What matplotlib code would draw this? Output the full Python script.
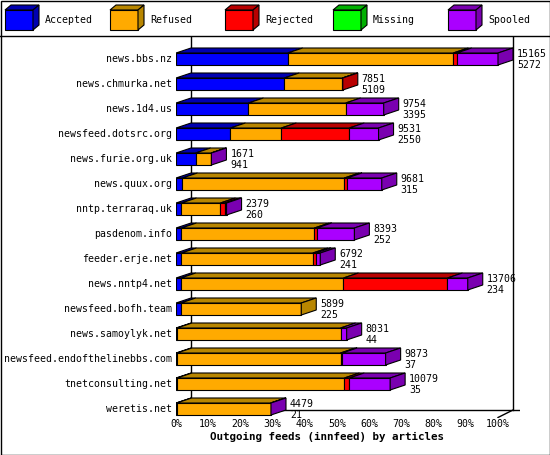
import numpy as np
import matplotlib.pyplot as plt
from matplotlib.patches import Polygon, Rectangle

# feeds, top to bottom
hosts = ['news.bbs.nz', 'news.chmurka.net', 'news.1d4.us', 'newsfeed.dotsrc.org',
         'news.furie.org.uk', 'news.quux.org', 'nntp.terraraq.uk', 'pasdenom.info',
         'feeder.erje.net', 'news.nntp4.net', 'newsfeed.bofh.team', 'news.samoylyk.net',
         'newsfeed.endofthelinebbs.com', 'tnetconsulting.net', 'weretis.net']
offered = [15165, 7851, 9754, 9531, 1671, 9681, 2379, 8393, 6792, 13706, 5899, 8031, 9873, 10079, 4479]
accepted_n = [5272, 5109, 3395, 2550, 941, 315, 260, 252, 241, 234, 225, 44, 37, 35, 21]

# segment widths in % of the largest feed
accepted = [34.7, 33.6, 22.5, 16.9, 6.1, 2.0, 1.7, 1.7, 1.7, 1.5, 1.5, 0.3, 0.3, 0.3, 0.2]
refused = [51.4, 18.1, 30.2, 15.8, 4.8, 50.3, 12.1, 41.3, 40.8, 50.5, 37.4, 50.8, 50.8, 52.0, 29.2]
rejected = [1.1, 0.1, 0.0, 21.1, 0.0, 0.8, 1.4, 0.7, 0.9, 32.3, 0.0, 0.0, 0.5, 1.5, 0.0]
missing = [0.0] * 15
spooled = [12.8, 0.0, 11.8, 9.1, 0.1, 10.8, 0.5, 11.7, 1.4, 6.3, 0.0, 1.9, 13.5, 12.7, 0.1]

names = ['Accepted', 'Refused', 'Rejected', 'Missing', 'Spooled']
front = ['#0000ff', '#ffaa00', '#ff0000', '#00ff00', '#aa00ff']
top = ['#0000b0', '#b88600', '#b80000', '#00b000', '#7a00b0']

plt.rcParams['font.family'] = ['DejaVu Sans Mono']
fs = 7.1
fig = plt.figure(figsize=(5.5, 4.55), dpi=100)

# overlay in pixel coords for frame and legend
bg = fig.add_axes([0, 0, 1, 1])
bg.set_xlim(0, 550)
bg.set_ylim(455, 0)
bg.axis('off')
bg.add_patch(Rectangle((0.5, 0.5), 549, 454, fill=False, lw=1, ec='black'))
bg.plot([0, 550], [36, 36], color='black', lw=1)
leg_x = [5, 110, 225, 333, 448]
for i, nm in enumerate(names):
    x0 = leg_x[i]
    bg.add_patch(Polygon([(x0, 10), (x0 + 28, 10), (x0 + 28, 30), (x0, 30)], fc=front[i], ec='black', lw=0.8))
    bg.add_patch(Polygon([(x0, 10), (x0 + 6, 5), (x0 + 34, 5), (x0 + 28, 10)], fc=top[i], ec='black', lw=0.8))
    bg.add_patch(Polygon([(x0 + 28, 10), (x0 + 34, 5), (x0 + 34, 25), (x0 + 28, 30)], fc=top[i], ec='black', lw=0.8))
    bg.text(x0 + 40, 20, nm, fontsize=fs, va='center')

# main chart: x in %, y in rows
ax = fig.add_axes([176 / 550, 1 - 418 / 455, 344 / 550, 382 / 455])
ax.set_xlim(0, 344 / 3.22)
ax.set_ylim((418 - 59) / 25, (36 - 59) / 25)
ax.axis('off')
dx, dy, h = 15 / 3.22, 5 / 25, 6 / 25

ax.plot([dx, dx], [-0.9, 14 + h - dy], color='black', lw=1, zorder=0)
ax.plot([100 + dx, 100 + dx], [-0.9, 14 + h - dy], color='black', lw=1, zorder=0)
ax.plot([dx, 110.5], [14 + h - dy, 14 + h - dy], color='black', lw=1, zorder=0)
ax.plot([100, 100 + dx], [14 + h + 0.1, 14 + h - dy], color='black', lw=1, zorder=0)
for t in range(0, 101, 10):
    ax.text(t, 14.6, f'{t}%', fontsize=fs, ha='center', va='center', clip_on=False)
ax.text(47, 15.1, 'Outgoing feeds (innfeed) by articles', fontsize=7.8, fontweight='bold',
        ha='center', va='center', clip_on=False)

segs = np.array([accepted, refused, rejected, missing, spooled]).T
for r in range(len(hosts)):
    y0, y1 = r - h, r + h
    left = 0.0
    last = 0
    for k in range(5):
        w = segs[r, k]
        if w <= 0:
            continue
        ax.add_patch(Polygon([(left, y0), (left + w, y0), (left + w, y1), (left, y1)],
                             fc=front[k], ec='black', lw=0.8, zorder=2))
        ax.add_patch(Polygon([(left, y0), (left + dx, y0 - dy), (left + w + dx, y0 - dy), (left + w, y0)],
                             fc=top[k], ec='black', lw=0.8, zorder=2))
        left += w
        last = k
    ax.add_patch(Polygon([(left, y0), (left + dx, y0 - dy), (left + dx, y1 - dy), (left, y1)],
                         fc=top[last], ec='black', lw=0.8, zorder=2))
    ax.text(-1.2, r, hosts[r], fontsize=fs, ha='right', va='center', clip_on=False)
    ax.text(left + dx + 1.2, r - 0.2, str(offered[r]), fontsize=fs, va='center', clip_on=False)
    ax.text(left + dx + 1.2, r + 0.25, str(accepted_n[r]), fontsize=fs, va='center', clip_on=False)

fig.savefig('out.png', dpi=100)
